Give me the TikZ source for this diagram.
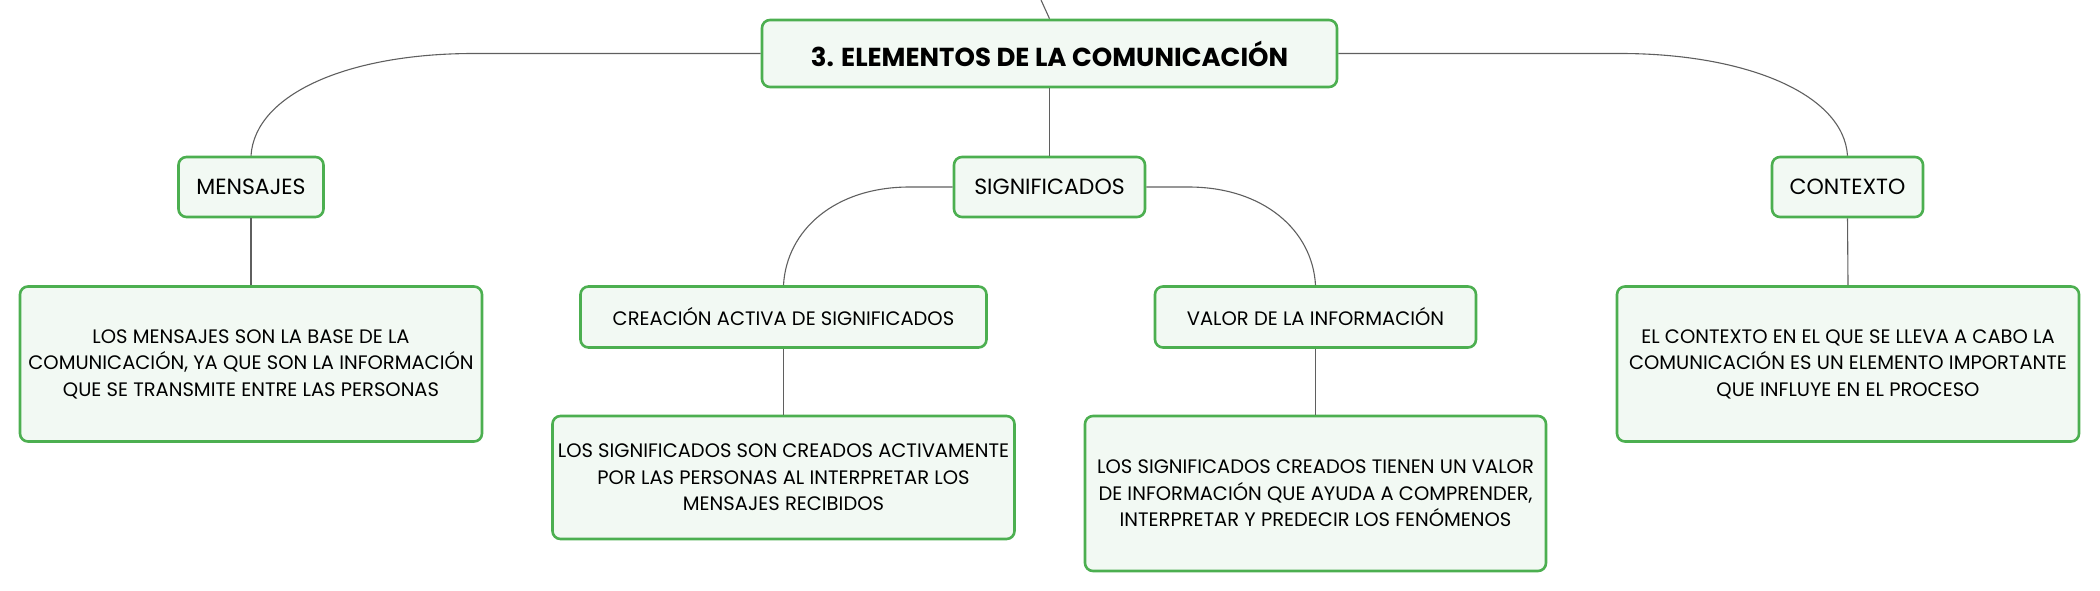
\documentclass[tikz,border=0pt]{standalone}
\usepackage{fontspec}
\setmainfont{Poppins}
\definecolor{boxgreen}{HTML}{4CAF50}
\definecolor{boxfill}{HTML}{F2F9F3}
\definecolor{linegray}{HTML}{5F5F5F}
\tikzset{
  box/.style={draw=boxgreen, fill=boxfill, line width=2.6pt, rounded corners=8pt,
    align=center, inner sep=0pt, text=black},
  titlebox/.style={box, font=\fontsize{26}{32}\selectfont\bfseries},
  labelbox/.style={box, font=\fontsize{22}{26}\selectfont},
  descbox/.style={box, font=\fontsize{19.5}{26.5}\selectfont},
  conn/.style={draw=linegray, line width=1.1pt}
}
\begin{document}
\begin{tikzpicture}[x=1pt,y=-1pt]
\useasboundingbox (0,0) rectangle (2100,591);
\node[titlebox, minimum width=575pt, minimum height=67pt] (title) at (1049.5,53.5) {3. ELEMENTOS DE LA COMUNICACIÓN};
\node[labelbox, minimum width=145pt, minimum height=60pt] (mens) at (251,187) {MENSAJES};
\node[labelbox, minimum width=191pt, minimum height=60pt] (sig) at (1049.5,187) {SIGNIFICADOS};
\node[labelbox, minimum width=151pt, minimum height=60pt] (ctx) at (1847.5,187) {CONTEXTO};
\node[descbox, minimum width=462pt, minimum height=155pt] (mensd) at (251,364) {LOS MENSAJES SON LA BASE DE LA\\COMUNICACIÓN, YA QUE SON LA INFORMACIÓN\\QUE SE TRANSMITE ENTRE LAS PERSONAS};
\node[descbox, minimum width=406pt, minimum height=61pt] (crea) at (783.5,317) {CREACIÓN ACTIVA DE SIGNIFICADOS};
\node[descbox, minimum width=321pt, minimum height=61pt] (valor) at (1315.5,317) {VALOR DE LA INFORMACIÓN};
\node[descbox, minimum width=462pt, minimum height=155pt] (ctxd) at (1848,364) {EL CONTEXTO EN EL QUE SE LLEVA A CABO LA\\COMUNICACIÓN ES UN ELEMENTO IMPORTANTE\\QUE INFLUYE EN EL PROCESO};
\node[descbox, minimum width=462pt, minimum height=123pt] (sigd) at (783.5,477.5) {LOS SIGNIFICADOS SON CREADOS ACTIVAMENTE\\POR LAS PERSONAS AL INTERPRETAR LOS\\MENSAJES RECIBIDOS};
\node[descbox, minimum width=461pt, minimum height=155pt] (valord) at (1315.5,493.5) {LOS SIGNIFICADOS CREADOS TIENEN UN VALOR\\DE INFORMACIÓN QUE AYUDA A COMPRENDER,\\INTERPRETAR Y PREDECIR LOS FENÓMENOS};
\coordinate (topin) at (1041,0);
\draw[conn] (topin) -- (title.north);
\draw[conn] (title.west) -- ++(-287,0) .. controls +(-125,0) and +(4,-62) .. (mens.north);
\draw[conn] (title.east) -- ++(282,0) .. controls +(125,0) and +(-4,-62) .. (ctx.north);
\draw[conn] (title.south) -- (sig.north);
\draw[conn] (sig.west) -- ++(-43,0) .. controls +(-75,0) and +(3,-55) .. (crea.north);
\draw[conn] (sig.east) -- ++(42,0) .. controls +(75,0) and +(-3,-55) .. (valor.north);
\draw[conn] (mens.south) -- (mensd.north);
\draw[conn] (ctx.south) -- (ctxd.north);
\draw[conn] (crea.south) -- (sigd.north);
\draw[conn] (valor.south) -- (valord.north);
\end{tikzpicture}
\end{document}
